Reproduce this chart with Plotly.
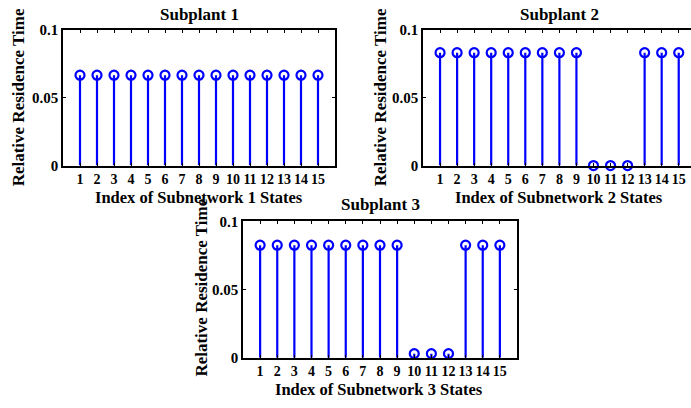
import plotly.graph_objects as go

W, H = 691, 408
states = list(range(1, 16))
tick_labels = [str(i) for i in states]
sub1 = [0.0667] * 15
sub2 = [0.0833] * 9 + [0.0, 0.0, 0.0] + [0.0833] * 3
sub3 = [0.0825] * 9 + [0.003, 0.003, 0.003] + [0.0825] * 3
titles = ["Subplant 1", "Subplant 2", "Subplant 3"]
xtitles = ["Index of Subnetwork 1 States", "Index of Subnetwork 2 States", "Index of Subnetwork 3 States"]
ytitle = "Relative Residence Time"
yticks = [0, 0.05, 0.1]
yticktext = ["0", "0.05", "0.1"]

BLUE = "#0000ff"
FONT = "Liberation Serif"

def px(x):
    return x / W

def py(y):
    return 1 - y / H

# panel boxes (pixels): left, right, top, bottom, xmax, mirror right axis
panels = [
    (63, 335, 23, 164, 16.0, True),
    (423, 691, 23, 164, 15.72, False),
    (243, 517, 222, 364, 16.0, True),
]
series = [sub1, sub2, sub3]

fig = go.Figure()
for i, (vals, (l, r, t, b, xmax, mir)) in enumerate(zip(series, panels)):
    xa = "x" if i == 0 else f"x{i+1}"
    ya = "y" if i == 0 else f"y{i+1}"
    sx, sy = [], []
    for xv, yv in zip(states, vals):
        sx += [xv, xv, None]
        sy += [0, yv, None]
    fig.add_trace(go.Scatter(x=sx, y=sy, mode="lines", line=dict(color=BLUE, width=2.2),
                             xaxis=xa, yaxis=ya, showlegend=False, hoverinfo="skip"))
    fig.add_trace(go.Scatter(x=states, y=vals, mode="markers",
                             marker=dict(symbol="circle-open", size=9, color=BLUE, line=dict(width=2.2, color=BLUE)),
                             xaxis=xa, yaxis=ya, showlegend=False, cliponaxis=False))
    suffix = "" if i == 0 else str(i + 1)
    fig.layout["xaxis" + suffix] = dict(
        domain=[px(l), px(r)], range=[0, xmax], anchor=ya,
        tickvals=states, ticktext=tick_labels, ticks="inside", ticklen=3, tickwidth=1,
        tickangle=0, ticklabelstandoff=0,
        showline=True, linecolor="black", linewidth=1.5, mirror="allticks",
        showgrid=False, zeroline=False, tickcolor="black",
        tickfont=dict(family=FONT, size=14, color="black", weight="bold"))
    fig.layout["yaxis" + suffix] = dict(
        domain=[py(b), py(t)], range=[0, 0.1], anchor=xa,
        tickvals=yticks, ticktext=yticktext, ticks="inside", ticklen=3, tickwidth=1,
        showline=True, linecolor="black", linewidth=1.5, mirror="allticks" if mir else False,
        showgrid=False, zeroline=False, tickcolor="black",
        tickfont=dict(family=FONT, size=15, color="black", weight="bold"))

ann = []
def add(text, x, y, angle=0, size=17):
    ann.append(dict(text=text, x=px(x), y=py(y), xref="paper", yref="paper", showarrow=False,
                    xanchor="center", yanchor="middle", textangle=angle,
                    font=dict(family=FONT, size=size, color="black", weight="bold")))

add(titles[0], 199, 7)
add(titles[1], 559, 7)
add(titles[2], 380, 204)
add(xtitles[0], 199, 197, size=16.5)
add(xtitles[1], 559, 197, size=16.5)
add(xtitles[2], 379, 397, size=16.5)
add(ytitle, 18, 93, -90)
add(ytitle, 380, 93, -90)
add(ytitle, 202, 291, -90)

fig.update_layout(width=W, height=H, margin=dict(l=0, r=0, t=0, b=0),
                  paper_bgcolor="white", plot_bgcolor="white", annotations=ann)
fig.write_html("out.html")
